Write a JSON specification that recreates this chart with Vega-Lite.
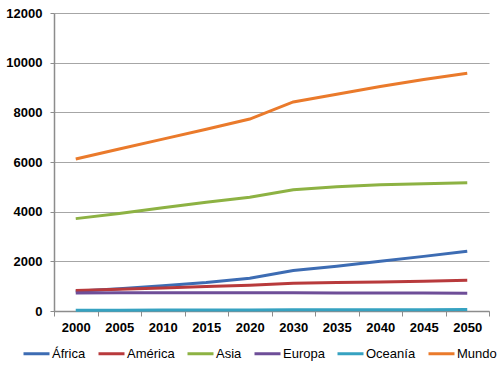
{
  "$schema": "https://vega.github.io/schema/vega-lite/v6.json",
  "width": 435,
  "height": 298,
  "autosize": {"type": "none"},
  "padding": {"left": 54, "top": 13, "right": 11, "bottom": 59},
  "background": "white",
  "data": {
    "values": [
      {"year": "2000", "region": "África", "value": 800},
      {"year": "2005", "region": "África", "value": 900},
      {"year": "2010", "region": "África", "value": 1020},
      {"year": "2015", "region": "África", "value": 1150},
      {"year": "2020", "region": "África", "value": 1320},
      {"year": "2030", "region": "África", "value": 1630},
      {"year": "2035", "region": "África", "value": 1800},
      {"year": "2040", "region": "África", "value": 2000},
      {"year": "2045", "region": "África", "value": 2200},
      {"year": "2050", "region": "África", "value": 2410},
      {"year": "2000", "region": "América", "value": 830},
      {"year": "2005", "region": "América", "value": 880},
      {"year": "2010", "region": "América", "value": 930},
      {"year": "2015", "region": "América", "value": 990},
      {"year": "2020", "region": "América", "value": 1040},
      {"year": "2030", "region": "América", "value": 1120},
      {"year": "2035", "region": "América", "value": 1150},
      {"year": "2040", "region": "América", "value": 1170},
      {"year": "2045", "region": "América", "value": 1200},
      {"year": "2050", "region": "América", "value": 1240},
      {"year": "2000", "region": "Asia", "value": 3720},
      {"year": "2005", "region": "Asia", "value": 3930},
      {"year": "2010", "region": "Asia", "value": 4160},
      {"year": "2015", "region": "Asia", "value": 4380},
      {"year": "2020", "region": "Asia", "value": 4580},
      {"year": "2030", "region": "Asia", "value": 4880},
      {"year": "2035", "region": "Asia", "value": 5000},
      {"year": "2040", "region": "Asia", "value": 5080},
      {"year": "2045", "region": "Asia", "value": 5120},
      {"year": "2050", "region": "Asia", "value": 5160},
      {"year": "2000", "region": "Europa", "value": 728},
      {"year": "2005", "region": "Europa", "value": 730},
      {"year": "2010", "region": "Europa", "value": 732},
      {"year": "2015", "region": "Europa", "value": 733},
      {"year": "2020", "region": "Europa", "value": 733},
      {"year": "2030", "region": "Europa", "value": 730},
      {"year": "2035", "region": "Europa", "value": 728},
      {"year": "2040", "region": "Europa", "value": 725},
      {"year": "2045", "region": "Europa", "value": 720},
      {"year": "2050", "region": "Europa", "value": 715},
      {"year": "2000", "region": "Oceanía", "value": 31},
      {"year": "2005", "region": "Oceanía", "value": 33},
      {"year": "2010", "region": "Oceanía", "value": 36},
      {"year": "2015", "region": "Oceanía", "value": 39},
      {"year": "2020", "region": "Oceanía", "value": 42},
      {"year": "2030", "region": "Oceanía", "value": 47},
      {"year": "2035", "region": "Oceanía", "value": 50},
      {"year": "2040", "region": "Oceanía", "value": 52},
      {"year": "2045", "region": "Oceanía", "value": 54},
      {"year": "2050", "region": "Oceanía", "value": 56},
      {"year": "2000", "region": "Mundo", "value": 6120},
      {"year": "2005", "region": "Mundo", "value": 6520},
      {"year": "2010", "region": "Mundo", "value": 6920},
      {"year": "2015", "region": "Mundo", "value": 7320},
      {"year": "2020", "region": "Mundo", "value": 7730},
      {"year": "2030", "region": "Mundo", "value": 8420},
      {"year": "2035", "region": "Mundo", "value": 8730},
      {"year": "2040", "region": "Mundo", "value": 9040},
      {"year": "2045", "region": "Mundo", "value": 9320},
      {"year": "2050", "region": "Mundo", "value": 9570}
    ]
  },
  "mark": {"type": "line", "strokeWidth": 3, "strokeCap": "butt"},
  "encoding": {
    "x": {
      "field": "year",
      "type": "ordinal",
      "scale": {"type": "band", "paddingInner": 0, "paddingOuter": 0},
      "axis": {
        "title": null,
        "labelAngle": 0,
        "labelFont": "Liberation Sans",
        "labelFontSize": 13,
        "labelFontWeight": "bold",
        "labelColor": "#000000",
        "labelPadding": 5,
        "tickBand": "extent",
        "tickSize": 5,
        "tickColor": "#8C8C8C",
        "domainColor": "#8C8C8C",
        "domainWidth": 1.5,
        "grid": false
      }
    },
    "y": {
      "field": "value",
      "type": "quantitative",
      "scale": {"domain": [0, 12000], "nice": false},
      "axis": {
        "title": null,
        "values": [0, 2000, 4000, 6000, 8000, 10000, 12000],
        "format": "d",
        "labelFont": "Liberation Sans",
        "labelFontSize": 13,
        "labelFontWeight": "bold",
        "labelColor": "#000000",
        "labelPadding": 8,
        "tickSize": 4,
        "tickColor": "#8C8C8C",
        "domainColor": "#8C8C8C",
        "domainWidth": 1.5,
        "gridColor": "#A6A6A6",
        "gridWidth": 1.2
      }
    },
    "color": {
      "field": "region",
      "type": "nominal",
      "scale": {
        "domain": ["África", "América", "Asia", "Europa", "Oceanía", "Mundo"],
        "range": ["#3D6CB3", "#B83A3C", "#8DB243", "#6E4E98", "#36A2C1", "#EA7A2B"]
      },
      "legend": {
        "title": null,
        "orient": "none",
        "legendX": -32,
        "legendY": 326,
        "direction": "horizontal",
        "symbolStrokeWidth": 3,
        "symbolSize": 676,
        "labelFont": "Liberation Sans",
        "labelFontSize": 13,
        "labelColor": "#000000",
        "labelOffset": 1,
        "columnPadding": 6
      }
    }
  },
  "config": {"view": {"stroke": null}}
}
